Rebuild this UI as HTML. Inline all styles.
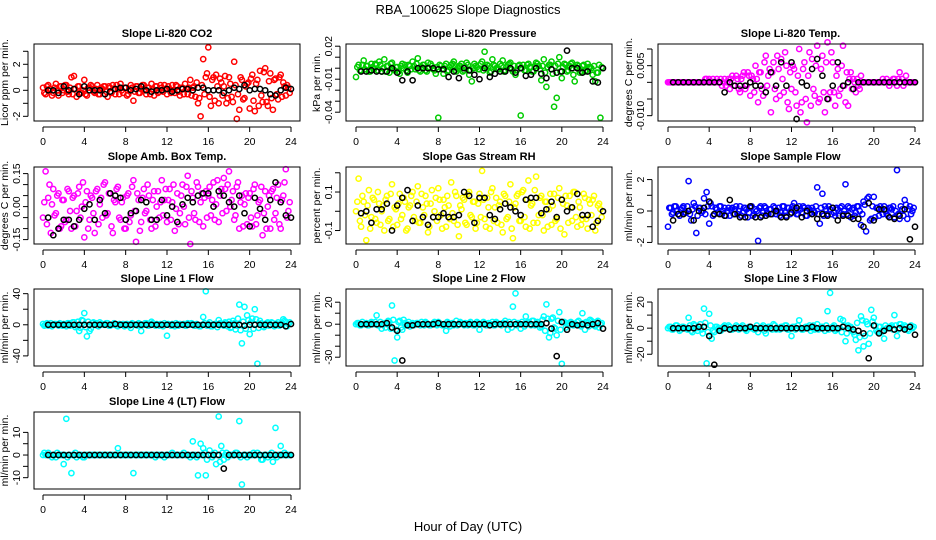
<!DOCTYPE html>
<html><head><meta charset="utf-8">
<style>
html,body{margin:0;padding:0;background:#fff;}
svg{display:block;font-family:"Liberation Sans",Arial,sans-serif;}
</style></head>
<body>
<svg id="chart" width="936" height="540" viewBox="0 0 936 540">
<text x="468" y="14" text-anchor="middle" font-size="13">RBA_100625  Slope Diagnostics</text>
<text x="468" y="531" text-anchor="middle" font-size="13">Hour of Day (UTC)</text>
</svg>
<script>
// ---- data (colored: every 0.25 h from 0, second set offset by 0.125 h; black: every 0.5 h from 0.5) ----
const xTicks = [0,4,8,12,16,20,24];
const co2C = [0.2,-0.3,0.4,0.1,-0.2,0.5,-0.4,0.3, 0.0,0.4,-0.3,1.0,1.1,-0.5,0.3,-0.2, 0.8,-0.4,0.2,0.3,-0.2,0.4,-0.3,0.1, 0.3,-0.5,0.2,0.4,-0.3,0.1,0.5,-0.2, 0.2,-0.3,0.4,-0.8,0.3,-0.2,0.1,0.4, -0.3,0.2,0.5,-0.4,0.3,-0.1,0.2,0.4, -0.3,0.1,0.4,-0.2,0.3,-0.4,0.2,0.5, -0.3,0.8,0.2,-0.5,-1.0,-2.0,2.4,1.0, 3.3,-1.2,1.0,1.2,-1.0,0.6,0.3,-1.0, 1.0,-0.5,2.2,-2.2,-1.5,0.8,-0.6,0.5, -1.4,1.2,-1.6,0.8,1.5,-0.9,1.7,-1.2, 1.3,-1.5,0.9,-0.7,1.2,0.6,-0.4,0.2];
const co2C2 = [-0.2,0.3,0.1,-0.4,0.2,0.0,0.3,-0.2, 0.4,-0.1,0.2,-0.3,0.1,0.3,-0.2,0.0, -0.3,0.2,0.4,-0.1,0.1,-0.3,0.2,0.3, -0.1,0.3,-0.2,0.1,0.4,-0.3,0.0,0.2, -0.4,0.1,0.2,-0.1,0.3,-0.2,0.4,0.0, 0.2,-0.3,0.1,0.3,-0.2,0.4,-0.1,0.1, 0.3,-0.2,0.0,0.4,-0.1,0.2,-0.3,0.1, 0.2,-0.4,0.3,0.6,-0.6,0.4,-0.3,1.3, -0.5,0.8,-0.8,0.3,0.9,-0.4,1.1,-0.6, 0.5,-0.9,0.4,-0.3,1.0,-0.7,0.3,0.6, 0.9,-0.8,0.5,-1.2,-0.4,1.4,-0.9,0.7, -0.6,0.8,-0.3,1.0,-0.5,0.3,0.4,-0.2];
const co2B = [0,0,-0.2,0.3,0,0.1,-0.3,0.3, 0,0,0,-0.3,-0.1,0.1,0.2,0.2, 0,0.1,0.3,0,-0.1,0,0,0.1, -0.1,0,0.1,0.1,0,0.2,0.2,0, 0,0,-0.2,0,0.2,0.1,0.4,0, 0.1,0.1,0,-0.3,-0.4,0,0.2,0.1];
const presC = [-0.008,0.003,-0.002,0.007,0.002,-0.003,0.004,-0.001, 0.003,0.006,-0.003,0.008,0.002,-0.004,0.005,-0.002, 0.001,-0.005,0.004,0.003,-0.004,0.002,0.006,-0.001, 0.009,-0.003,0.003,-0.002,0.005,0.004,-0.001,-0.005, -0.045,0.002,-0.005,0.004,-0.002,0.003,0.006,-0.003, 0.002,0.004,-0.002,0.005,-0.006,-0.012,0.004,0.001, -0.001,0.006,0.015,0.003,-0.004,0.008,0.002,-0.001, 0.004,0.007,-0.002,0.003,0.005,-0.003,-0.006,0.002, -0.043,0.003,-0.002,0.004,0.001,-0.003,0.005,0.002, -0.011,0.008,-0.017,0.003,0.006,-0.035,-0.027,0.010, -0.009,0.004,-0.003,0.002,0.005,-0.012,0.003,-0.004, 0.002,-0.003,0.004,0.001,-0.006,-0.012,-0.004,-0.045];
const presC2 = [0.001,-0.002,0.003,-0.001,0.002,-0.003,0.001,0.004, -0.002,0.003,0.000,-0.003,0.002,0.004,-0.001,0.001, -0.003,0.002,0.000,-0.002,0.003,-0.001,0.002,0.004, -0.002,0.001,0.003,-0.003,0.000,0.002,-0.002,0.001, 0.003,-0.001,0.002,-0.003,0.001,0.004,-0.002,0.000, 0.002,-0.003,0.001,0.003,-0.002,0.000,0.002,-0.001, 0.004,-0.002,0.001,0.002,-0.003,0.003,0.000,-0.001, 0.002,-0.003,0.001,0.004,-0.001,0.002,-0.002,0.003, 0.000,-0.002,0.003,0.001,-0.003,0.002,0.004,-0.001, 0.002,-0.004,0.001,0.003,-0.005,0.002,0.004,-0.003, 0.001,0.003,-0.002,0.004,-0.006,0.001,0.002,-0.003, 0.003,-0.002,0.001,0.000,0.002,-0.004,0.003,0.001];
const presB = [-0.003,-0.003,-0.002,-0.003,-0.003,-0.003,0,-0.004, -0.011,-0.003,-0.011,0,0,0,0,-0.001, -0.001,-0.008,-0.003,-0.009,0,-0.002,-0.006,-0.01, 0,-0.008,-0.005,-0.003,-0.003,0,-0.004,0, -0.007,-0.006,0,-0.005,-0.009,-0.001,-0.004,-0.003, 0.016,0,0,-0.004,-0.003,-0.012,-0.013,0];
const tempC = [0,0,0,0,0,0,0,0, 0,0,0,0,0,0,0,0.001, 0.001,0,0,0.001,0,-0.001,0.001,0, -0.002,0.002,-0.001,0.001,-0.003,0.002,-0.002,0.003, -0.004,0.001,0.005,-0.006,0.003,-0.004,0.008,0.002, -0.009,0.006,-0.005,0.004,0.007,-0.003,0.005,-0.008, -0.002,0.004,-0.007,0.010,-0.006,0.006,-0.012,0.009, 0.007,-0.004,0.011,-0.005,0.008,-0.009,0.012,-0.003, 0.006,-0.007,0.004,-0.002,0.011,-0.006,-0.007,0.003, 0.001,-0.003,-0.001,0.002,0,0,0,0, 0,0,0,0,0,0.001,-0.001,0, 0.001,-0.001,0.003,0.001,0,0,0,0];
const tempC2 = [0,0,0,0,0,0,0,0, 0,0,0,0,0,0,0.001,0, 0,0.001,0,0,0.001,0,-0.001,0.001, 0.001,-0.001,0.002,-0.002,0.001,0.003,-0.001,0.002, 0.002,-0.003,0.001,0.003,-0.002,0.006,-0.001,0.004, 0.003,-0.002,0.008,-0.004,0.001,0.009,-0.006,0.003, 0.005,-0.003,0.002,-0.009,0.004,-0.005,0.002,-0.007, -0.002,0.005,-0.006,0.004,-0.003,0.006,-0.005,0.009, -0.003,0.002,-0.004,0.005,-0.001,0.003,0.001,-0.002, 0,0.001,-0.002,0,0,0,0,0, 0,0,0,0.001,0,0,0,0.001, 0,0.001,0,-0.001,0.002,0,0,0];
const tempB = [0,0,0,0,0,0,0,0, 0,0,-0.003,0,-0.001,-0.001,-0.001,0, -0.001,-0.001,-0.003,0.003,-0.001,0.006,-0.001,0.006, -0.011,0,-0.001,0.004,0.007,0.002,-0.005,-0.001, 0.006,-0.001,0,-0.002,0,0,0,0, 0,0,0,0,0,0,0,0];
const ambC = [-0.05,0.16,0.04,-0.12,0.08,-0.03,0.06,-0.09, 0.03,-0.06,0.07,-0.1,0.05,-0.02,0.09,0.0, -0.14,0.07,-0.06,0.04,-0.12,0.08,0.01,-0.05, 0.11,-0.03,0.06,-0.12,0.02,0.09,-0.06,0.04, -0.1,0.06,-0.04,0.12,-0.16,0.03,-0.07,0.08, -0.02,0.05,-0.1,0.07,0.0,-0.05,0.12,0.03, -0.07,0.08,0.02,-0.11,0.06,-0.03,0.1,-0.08, 0.14,-0.17,0.04,-0.06,0.09,0.02,-0.09,0.07, 0.05,-0.04,0.11,0.01,-0.07,0.08,0.13,-0.02, 0.16,0.03,-0.06,0.09,-0.1,0.05,0.01,-0.08, 0.06,-0.09,0.1,-0.04,0.03,-0.13,0.07,0.0, -0.1,0.08,-0.03,0.1,-0.1,0.05,0.17,-0.02];
const ambC2 = [0.02,-0.08,0.1,0.01,-0.04,0.05,-0.1,0.03, -0.07,0.08,-0.02,0.04,-0.09,0.06,-0.05,0.11, 0.02,-0.1,0.05,-0.03,0.07,-0.08,0.04,0.1, -0.04,0.06,-0.09,0.03,0.08,-0.05,0.02,-0.1, 0.05,-0.07,0.09,-0.02,0.06,-0.11,0.04,-0.03, 0.1,-0.06,0.03,-0.09,0.07,0.02,-0.04,0.08, 0.03,-0.06,0.1,-0.01,-0.08,0.05,0.0,0.09, -0.05,0.07,-0.03,0.11,-0.07,0.06,0.04,-0.05, 0.09,0.03,-0.06,0.12,0.05,-0.03,0.08,0.1, 0.0,0.07,-0.04,0.11,0.02,-0.09,0.06,0.04, -0.05,0.08,-0.08,0.02,0.09,-0.03,-0.1,0.05, 0.07,-0.06,0.04,-0.08,0.03,0.11,-0.05,0.02];
const ambB = [-0.05,-0.13,-0.1,-0.06,-0.06,-0.09,-0.06,-0.01, 0.01,-0.06,0.03,-0.03,0.06,0.05,0.04,-0.06, -0.03,-0.02,0.03,0.02,-0.06,-0.06,0.03,-0.04, 0.0,-0.07,0.01,0.04,0.02,0.05,0.06,0.06, 0.0,0.07,0.05,0.02,0.0,0.05,-0.03,-0.09, 0.04,-0.01,-0.06,0.03,0.11,0.02,-0.04,-0.05];
const rhC = [0.0,0.17,-0.08,0.05,-0.15,0.11,-0.03,0.06, -0.06,0.04,0.0,-0.1,0.08,-0.04,0.14,0.02, -0.07,0.09,-0.02,0.05,-0.09,0.03,0.1,-0.05, 0.13,-0.06,0.02,0.08,-0.11,0.04,-0.03,0.07, 0.12,-0.02,0.06,-0.08,0.03,0.15,-0.05,0.08, -0.13,0.01,0.06,-0.07,0.1,-0.03,0.05,-0.06, 0.09,0.21,-0.04,0.07,-0.09,0.12,0.02,-0.06, 0.05,-0.11,0.08,-0.03,0.14,-0.14,0.04,0.09, -0.05,0.11,-0.08,0.16,0.03,-0.06,0.18,-0.02, 0.08,-0.1,0.05,0.01,-0.07,0.09,-0.04,0.12, 0.06,-0.12,0.03,0.08,-0.05,0.1,-0.08,0.02, -0.04,0.07,-0.09,0.04,0.06,-0.1,0.03,0.01];
const rhC2 = [0.05,-0.05,0.08,-0.02,0.03,-0.09,0.07,-0.04, 0.1,-0.07,0.03,0.06,-0.05,0.09,-0.08,0.01, 0.04,-0.04,0.07,-0.1,0.02,0.08,-0.03,0.05, -0.06,0.09,-0.02,0.04,-0.08,0.11,0.0,-0.05, 0.06,-0.09,0.02,0.08,-0.04,-0.01,0.1,-0.07, 0.03,0.07,-0.06,0.09,-0.02,0.05,-0.09,0.04, -0.03,0.06,-0.08,0.02,0.1,-0.05,0.07,0.03, -0.07,0.09,-0.04,0.05,-0.09,0.02,0.08,-0.05, 0.1,-0.03,0.06,-0.09,0.04,0.11,-0.06,0.07, -0.02,0.05,-0.08,0.09,0.03,-0.05,0.07,-0.09, 0.04,0.08,-0.06,0.02,0.1,-0.03,0.05,-0.07, 0.09,-0.04,0.06,-0.02,0.08,-0.06,0.04,-0.03];
const rhB = [-0.01,0.0,-0.06,0.01,0.01,0.04,-0.1,0.03, 0.07,0.11,-0.05,0.03,-0.03,-0.07,-0.03,-0.03, -0.01,-0.03,-0.03,-0.02,0.1,0.08,-0.06,0.07, 0.07,-0.02,-0.04,0.01,0.04,0.02,0.0,-0.02, 0.06,0.07,0.07,-0.01,0.01,0.05,-0.03,0.06, 0.0,0.02,0.09,-0.02,-0.02,-0.08,-0.05,0.0];
const sfC = [-1.0,0.2,-0.1,0.3,-0.2,0.1,0.3,-0.1, 1.9,-0.6,0.5,-1.4,0.2,-0.1,0.8,1.2, -0.8,0.3,-0.2,0.1,0.3,-0.2,0.2,0.0, -0.3,0.2,0.1,-0.2,0.3,-0.1,0.2,-0.4, 0.2,-0.3,0.1,-1.9,0.3,-0.1,0.2,-0.2, 0.1,0.3,-0.2,0.2,-0.1,0.3,-0.3,0.2, 0.1,0.5,-0.2,0.3,-0.1,0.2,-0.3,0.1, 0.2,-0.1,1.5,-0.8,1.1,0.3,-0.2,0.1, 0.2,-0.3,0.1,0.2,-0.2,1.7,0.3,-0.4, 0.2,-0.1,0.3,-0.9,0.6,-1.3,0.9,-0.5, 0.9,0.2,-0.3,0.1,0.3,-0.2,0.2,0.1, -0.4,2.6,-0.5,0.1,0.7,-0.5,0.3,0.0];
const sfC2 = [0.2,-0.2,0.3,0.0,-0.3,0.2,-0.1,0.3, -0.2,0.1,0.3,-0.3,0.2,0.0,-0.2,0.3, 0.5,-0.3,0.2,-0.1,0.3,0.0,-0.3,0.2, 0.1,-0.2,0.3,0.0,-0.3,0.2,0.1,-0.1, 0.3,-0.2,0.0,0.2,-0.3,0.3,-0.1,0.1, -0.2,0.2,0.0,-0.3,0.3,-0.1,0.2,-0.2, 0.3,0.0,-0.2,0.1,0.3,-0.3,0.2,-0.1, 0.0,0.3,-0.2,0.2,-0.3,0.1,0.3,-0.2, -0.1,0.2,-0.3,0.3,0.0,-0.2,0.2,0.1, -0.3,0.3,0.0,-0.2,0.4,0.8,-0.6,0.3, -0.4,0.2,0.3,-0.2,0.0,-0.3,0.2,0.3, 0.0,-0.2,0.3,-0.3,0.4,0.1,-0.2,0.2];
const sfB = [-0.6,-0.2,-0.2,0.0,-0.6,0.0,0.2,0.6, -0.2,-0.2,-0.3,0.7,-0.2,-0.4,-0.4,0.3, -0.4,-0.4,-0.3,-0.2,0.0,-0.4,-0.4,-0.1, 0.2,-0.4,0.0,-0.2,-0.5,-0.2,-0.3,0.2, -0.6,-0.3,-0.3,-0.5,-0.5,-1.0,0.5,-0.6, 0.1,0.1,-0.4,-0.5,-0.3,0.1,-1.8,-1.0];
const l1C = [1,0,-1,2,0,1,-1,0, 1,-2,2,0,3,-1,-8,6, 15,-15,-8,2,0,-1,3,1, 0,2,-1,0,1,-2,0,1, -1,0,-4,1,0,2,-8,0, 2,-1,4,0,1,-1,0,2, -14,0,1,-2,0,1,0,-1, 2,0,1,-1,0,-2,10,43, 1,-2,0,1,6,0,-1,2, 4,-3,2,-1,26,-24,23,12, -12,8,20,-50,5,-2,1,3, 0,2,-1,3,0,7,4,1];
const l1C2 = [-1,2,0,-2,1,0,2,-1, 0,2,-1,3,-3,4,-4,5, -3,4,-5,3,2,-2,1,0, 2,-1,0,2,-1,1,0,-2, 1,-1,2,0,-1,1,0,2, -1,1,2,-1,0,1,-2,0, 1,-1,0,2,-1,0,1,-1, 0,2,-1,1,-2,0,2,-1, 3,-2,1,-3,2,0,3,-2, -4,5,-6,8,-7,4,-5,6, 3,-5,7,-4,2,-3,2,-1, 3,-2,1,-1,2,5,-2,3];
const l1B = [0,0,0,0,0,0,0,0, 0,0,0,0,0,1,0,0, 0,0,0,0,0,0,0,0, 0,0,0,0,0,0,0,0, 0,0,0,0,0,0,-1,0, 0,0,0,0,0,0,-2,1];
const l2C = [0,1,-1,0,1,-1,2,0, 8,-1,-4,1,0,2,17,-33, -12,3,-5,1,0,-2,1,0, 1,-1,0,2,0,-1,1,0, 2,0,-1,-6,1,0,-1,3, 0,1,-1,0,1,0,-1,2, -5,0,1,-1,0,2,-1,1, 0,1,3,-5,0,16,28,1, -4,0,7,2,-1,3,1,0, -2,7,18,-12,5,-3,-10,11, -36,2,0,-1,1,0,2,-1, 10,-5,1,4,2,-2,3,0];
const l2C2 = [1,-1,2,0,-1,1,0,2, -1,2,0,-3,3,-4,4,-5, 2,-3,4,-1,2,0,-1,1, 0,2,-1,1,-1,0,2,-1, 1,-1,0,2,-2,1,0,-1, 2,0,1,-1,2,-1,0,1, 0,2,-1,1,0,-1,2,0, -1,1,0,2,-3,2,-1,0, 2,-2,1,0,3,-1,2,-3, 4,-6,5,-8,6,-4,3,-5, 2,-3,1,2,-1,0,3,-2, 1,2,-2,3,-1,2,-3,1];
const l2B = [0,0,0,0,0,1,-3,-6, -33,-1,-1,0,0,0,0,1, 0,0,0,0,0,0,0,0, 0,-1,0,0,0,0,0,0, 0,0,0,0,1,-4,-29,2, -5,0,-1,0,-1,0,1,-4];
const l3C = [0,1,-1,2,0,-1,1,0, 8,-2,3,0,1,-1,15,-27, 11,-8,-3,1,0,-1,2,0, 1,-1,0,1,0,2,-1,0, 1,0,-1,-3,0,2,-4,1, 0,3,-1,0,1,0,2,-1, -6,1,0,6,-1,0,1,2, 0,-1,3,0,1,-2,13,27, 1,-2,0,7,6,-10,2,1, -3,-9,-17,9,-14,5,-12,14, 8,-2,1,-3,-8,0,1,2, 10,-6,3,1,2,-1,1,0];
const l3C2 = [1,-1,0,2,-2,1,0,-1, 2,-3,2,-2,3,-4,4,-3, 2,-2,1,0,-2,1,0,2, -1,0,2,-1,1,0,-2,1, 0,-1,2,0,1,-2,0,1, -1,2,0,-1,1,2,-1,0, 1,-1,2,0,-1,1,0,-2, 2,0,-1,1,0,2,-1,0, 2,-1,0,-3,2,-4,1,-2, -5,4,-7,6,-6,3,-4,5, 2,-3,1,-2,2,0,1,-1, 2,-1,3,0,1,-2,2,1];
const l3B = [0,0,0,0,0,1,1,-6, -28,-2,0,-1,0,0,0,1, 0,0,0,0,0,0,0,0, 0,0,0,1,0,0,0,0, 0,1,0,-1,-2,-4,-23,2, -4,-2,0,-1,0,-1,1,-5];
const l4C = [0,0,1,0,0,-1,0,0, -4,16,0,-8,0,-1,0,0, -1,0,0,0,0,0,0,0, 0,0,0,0,0,3,0,0, 0,0,0,-8,0,0,0,0, 0,0,0,0,0,0,0,-1, 0,0,1,0,0,0,0,0, 0,-1,6,0,-9,5,3,-9, 0,0,0,-4,17,4,-2,1, 0,0,0,1,15,-13,0,-1, 0,0,0,1,0,-2,0,-1, 0,-3,12,0,4,0,0,0];
const l4C2 = [1,0,0,-1,0,1,0,0, 0,-1,0,0,1,0,0,-1, 0,0,0,0,0,0,0,0, 0,0,0,0,0,0,0,0, 0,0,0,0,0,0,0,0, 0,0,0,-1,0,0,0,0, 0,0,0,0,0,0,1,0, 0,0,0,-1,0,0,1,-2, 2,-1,1,0,-3,1,0,-1, 0,0,1,0,-1,0,0,0, 0,1,0,0,-2,0,0,0, 1,0,-1,0,0,1,0,0];
const l4B = [0,0,0,0,0,0,0,0, 0,0,0,0,0,0,0,0, 0,0,0,0,0,0,0,0, 0,0,0,0,0,0,0,0, 0,0,-6,0,0,0,0,0, 0,0,0,0,0,0,0,0];
const co2Ticks=[-2,-1,0,1,2,3], co2Labels=[-2,0,2];
const presTicks=[0.02,0.01,0,-0.01,-0.02,-0.03,-0.04], presLabels=[0.02,-0.01,-0.04];
const tempTicks=[0.01,0.005,0,-0.005,-0.01], tempLabels=[0.005,-0.01];
const ambTicks=[0.15,0.1,0.05,0,-0.05,-0.1,-0.15], ambLabels=[0.15,0,-0.15];
const rhTicks=[0.2,0.1,0,-0.1], rhLabels=[0.1,-0.1];
const sfTicks=[2,1,0,-1,-2], sfLabels=[2,0,-2];
const l1Ticks=[40,20,0,-20,-40], l1Labels=[40,0,-40];
const l2Ticks=[20,10,0,-10,-20,-30], l2Labels=[20,0,-30];
const l3Ticks=[20,10,0,-10,-20], l3Labels=[20,0,-20];
const l4Ticks=[10,5,0,-5,-10], l4Labels=[10,0,-10];

const panels = [
 {name:'co2',title:'Slope Li-820 CO2',ylab:'Licor ppm per min.',col:0,row:0,y0:-2.36,y1:3.56,color:'#ff0000',c:co2C,c2:co2C2,b:co2B,ticks:co2Ticks,labels:co2Labels,fmt:v=>String(v)},
 {name:'pressure',title:'Slope Li-820 Pressure',ylab:'kPa per min.',col:1,row:0,y0:-0.048,y1:0.022,color:'#00cc00',c:presC,c2:presC2,b:presB,ticks:presTicks,labels:presLabels,fmt:v=>v.toFixed(2)},
 {name:'temp',title:'Slope Li-820 Temp.',ylab:'degrees C per min.',col:2,row:0,y0:-0.0116,y1:0.0115,color:'#ff00ff',c:tempC,c2:tempC2,b:tempB,ticks:tempTicks,labels:tempLabels,fmt:v=>v.toFixed(3)},
 {name:'amb-box-temp',title:'Slope Amb. Box Temp.',ylab:'degrees C per min.',col:0,row:1,y0:-0.17,y1:0.18,color:'#ff00ff',c:ambC,c2:ambC2,b:ambB,ticks:ambTicks,labels:ambLabels,fmt:v=>v.toFixed(2)},
 {name:'gas-stream-rh',title:'Slope Gas Stream RH',ylab:'percent per min.',col:1,row:1,y0:-0.17,y1:0.23,color:'#ffff00',c:rhC,c2:rhC2,b:rhB,ticks:rhTicks,labels:rhLabels,fmt:v=>String(v)},
 {name:'sample-flow',title:'Slope Sample Flow',ylab:'ml/min per min.',col:2,row:1,y0:-2.1,y1:2.8,color:'#0000ff',c:sfC,c2:sfC2,b:sfB,ticks:sfTicks,labels:sfLabels,fmt:v=>String(v)},
 {name:'line1-flow',title:'Slope Line 1 Flow',ylab:'ml/min per min.',col:0,row:2,y0:-53,y1:46,color:'#00ffff',c:l1C,c2:l1C2,b:l1B,ticks:l1Ticks,labels:l1Labels,fmt:v=>String(v)},
 {name:'line2-flow',title:'Slope Line 2 Flow',ylab:'ml/min per min.',col:1,row:2,y0:-38,y1:32,color:'#00ffff',c:l2C,c2:l2C2,b:l2B,ticks:l2Ticks,labels:l2Labels,fmt:v=>String(v)},
 {name:'line3-flow',title:'Slope Line 3 Flow',ylab:'ml/min per min.',col:2,row:2,y0:-29,y1:30,color:'#00ffff',c:l3C,c2:l3C2,b:l3B,ticks:l3Ticks,labels:l3Labels,fmt:v=>String(v)},
 {name:'line4-flow',title:'Slope Line 4 (LT) Flow',ylab:'ml/min per min.',col:0,row:3,y0:-15,y1:19,color:'#00ffff',c:l4C,c2:l4C2,b:l4B,ticks:l4Ticks,labels:l4Labels,fmt:v=>String(v)}
];

const NS='http://www.w3.org/2000/svg';
const svg=document.getElementById('chart');
const colBox=[{l:34,r:300,x0:43,x24:291},{l:346,r:612,x0:356,x24:603},{l:658,r:923,x0:668,x24:915}];
const rowTop=[44,167,289,412], boxH=77;
function mk(tag,attrs,parent){const e=document.createElementNS(NS,tag);for(const k in attrs)e.setAttribute(k,attrs[k]);parent.appendChild(e);return e;}

panels.forEach(p=>{
  const cb=colBox[p.col], top=rowTop[p.row], bot=top+boxH;
  const xs=h=>cb.x0+(cb.x24-cb.x0)*h/24;
  const ys=v=>bot-(v-p.y0)/(p.y1-p.y0)*boxH;
  const g=mk('g',{},svg);
  
  
  const t=mk('text',{x:(cb.l+cb.r)/2,y:top-7,'text-anchor':'middle','font-size':'11','font-weight':'bold'},g);
  t.textContent=p.title;
  
  
  const cg=mk('g',{fill:'none',stroke:p.color,'stroke-width':'1.5'},g);
  
  
  p.c.forEach((v,i)=>{
    const c=mk('circle',{cx:xs(i*0.25).toFixed(1),cy:ys(v).toFixed(1),r:'2.6'},cg);
    
    
  });
  p.c2.forEach((v,i)=>{
    const c=mk('circle',{cx:xs(0.125+i*0.25).toFixed(1),cy:ys(v).toFixed(1),r:'2.6'},cg);
    
    
  });
  const bg=mk('g',{fill:'none',stroke:'#000','stroke-width':'1.5'},g);
  
  
  p.b.forEach((v,i)=>{
    const c=mk('circle',{cx:xs(0.5+i*0.5).toFixed(1),cy:ys(v).toFixed(1),r:'2.6'},bg);
    
    
  });
  const box=mk('rect',{x:cb.l,y:top,width:cb.r-cb.l,height:boxH,fill:'none',stroke:'#000','stroke-width':'1'},g);
  
  
  const xa=mk('g',{},g);
  
  
  mk('line',{x1:xs(0),x2:xs(24),y1:bot+6,y2:bot+6,stroke:'#000'},xa);
  xTicks.forEach(h=>{
    mk('line',{x1:xs(h),x2:xs(h),y1:bot+6,y2:bot+11,stroke:'#000'},xa);
    const tl=mk('text',{x:xs(h),y:bot+24,'text-anchor':'middle','font-size':'10.5'},xa);
    tl.textContent=h;
    
    
  });
  const ya=mk('g',{},g);
  
  
  const tv=p.ticks.filter(v=>v>=p.y0&&v<=p.y1);
  mk('line',{x1:cb.l-6,x2:cb.l-6,y1:ys(Math.max(...tv)),y2:ys(Math.min(...tv)),stroke:'#000'},ya);
  tv.forEach(v=>mk('line',{x1:cb.l-11,x2:cb.l-6,y1:ys(v),y2:ys(v),stroke:'#000'},ya));
  p.labels.forEach(v=>{
    const x=cb.l-14,y=ys(v);
    const tl=mk('text',{x:x,y:y,'text-anchor':'middle','font-size':'10.5',transform:`rotate(-90 ${x} ${y})`},ya);
    tl.textContent=p.fmt(v);
    
    
  });
  const yx=cb.l-26, yy=top+boxH/2;
  const yl=mk('text',{x:yx,y:yy,'text-anchor':'middle','font-size':'10.5',transform:`rotate(-90 ${yx} ${yy})`},g);
  yl.textContent=p.ylab;
  
  
});
</script>
</body></html>
